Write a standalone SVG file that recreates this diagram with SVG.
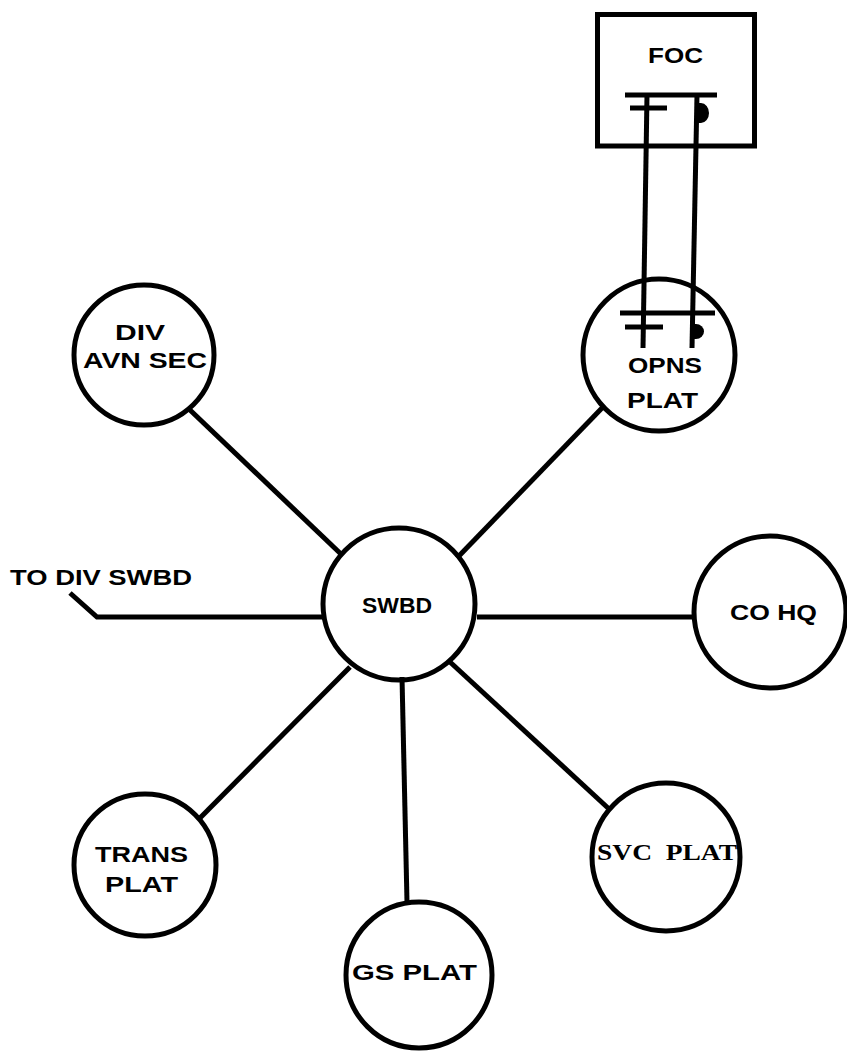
<svg xmlns="http://www.w3.org/2000/svg" width="847" height="1051" viewBox="0 0 847 1051">
<style>
.n{fill:none;stroke:#000;stroke-width:5}
.c line,.c polyline{stroke:#000;stroke-width:5;fill:none;stroke-linecap:butt}
.s{stroke:#000;stroke-width:5;fill:none}
.t{font-family:"Liberation Sans",Arial,sans-serif;font-weight:bold;font-size:22px;fill:#000}
.sf{font-family:"Liberation Serif","Times New Roman",serif;font-weight:bold;font-size:23px;fill:#000}
</style>
<rect width="847" height="1051" fill="#fff"/>
<g class="c" id="connectors">
<line x1="190" y1="410" x2="342" y2="555"/>
<line x1="602" y1="408" x2="457" y2="558"/>
<polyline points="70,593 97,617 322,617"/>
<line x1="477" y1="617" x2="693" y2="617"/>
<line x1="198" y1="820" x2="350" y2="667"/>
<line x1="402" y1="677" x2="407" y2="902"/>
<line x1="450" y1="662" x2="608" y2="808"/>
<line x1="647" y1="95" x2="643" y2="348"/>
<line x1="697" y1="95" x2="692" y2="348"/>
</g>
<g id="foc">
<rect class="n" x="597.5" y="14.5" width="157" height="131.5"/>
<text class="t" x="675.5" y="63" text-anchor="middle" textLength="55" lengthAdjust="spacingAndGlyphs">FOC</text>
<line class="s" x1="625" y1="95" x2="717" y2="95"/>
<line class="s" x1="630" y1="108" x2="667" y2="108"/>
<path d="M697,103 h4 a8,10 0 0 1 0,20 h-4 z" fill="#000"/>
</g>
<g id="opns-plat">
<circle class="n" cx="659" cy="355" r="76"/>
<line class="s" x1="620" y1="313" x2="715" y2="313"/>
<line class="s" x1="625" y1="327" x2="663" y2="327"/>
<path d="M692,324 h4 a8,7.5 0 0 1 0,15 h-4 z" fill="#000"/>
<text class="t" x="665" y="373" text-anchor="middle" textLength="74" lengthAdjust="spacingAndGlyphs">OPNS</text>
<text class="t" x="662.5" y="408" text-anchor="middle" textLength="71" lengthAdjust="spacingAndGlyphs">PLAT</text>
</g>
<g id="div-avn-sec">
<circle class="n" cx="144" cy="355" r="70"/>
<text class="t" x="140" y="340" text-anchor="middle" textLength="50" lengthAdjust="spacingAndGlyphs">DIV</text>
<text class="t" x="145" y="368" text-anchor="middle" textLength="124" lengthAdjust="spacingAndGlyphs">AVN SEC</text>
</g>
<g id="swbd">
<circle class="n" cx="399" cy="604" r="76"/>
<text class="t" x="397" y="613" text-anchor="middle" textLength="70" lengthAdjust="spacingAndGlyphs">SWBD</text>
</g>
<g id="to-div-swbd">
<text class="t" x="10" y="585" textLength="182" lengthAdjust="spacingAndGlyphs">TO DIV SWBD</text>
</g>
<g id="co-hq">
<circle class="n" cx="770" cy="612" r="76"/>
<text class="t" x="773.5" y="620" text-anchor="middle" textLength="87" lengthAdjust="spacingAndGlyphs">CO HQ</text>
</g>
<g id="trans-plat">
<circle class="n" cx="145" cy="865" r="71"/>
<text class="t" x="141.5" y="862" text-anchor="middle" textLength="93" lengthAdjust="spacingAndGlyphs">TRANS</text>
<text class="t" x="141.5" y="892" text-anchor="middle" textLength="73" lengthAdjust="spacingAndGlyphs">PLAT</text>
</g>
<g id="gs-plat">
<circle class="n" cx="419" cy="975" r="73"/>
<text class="t" x="414.5" y="980" text-anchor="middle" textLength="125" lengthAdjust="spacingAndGlyphs">GS PLAT</text>
</g>
<g id="svc-plat">
<circle class="n" cx="666" cy="857" r="74"/>
<text class="sf" x="667" y="860" text-anchor="middle" textLength="140" lengthAdjust="spacingAndGlyphs" xml:space="preserve">SVC  PLAT</text>
</g>
</svg>
